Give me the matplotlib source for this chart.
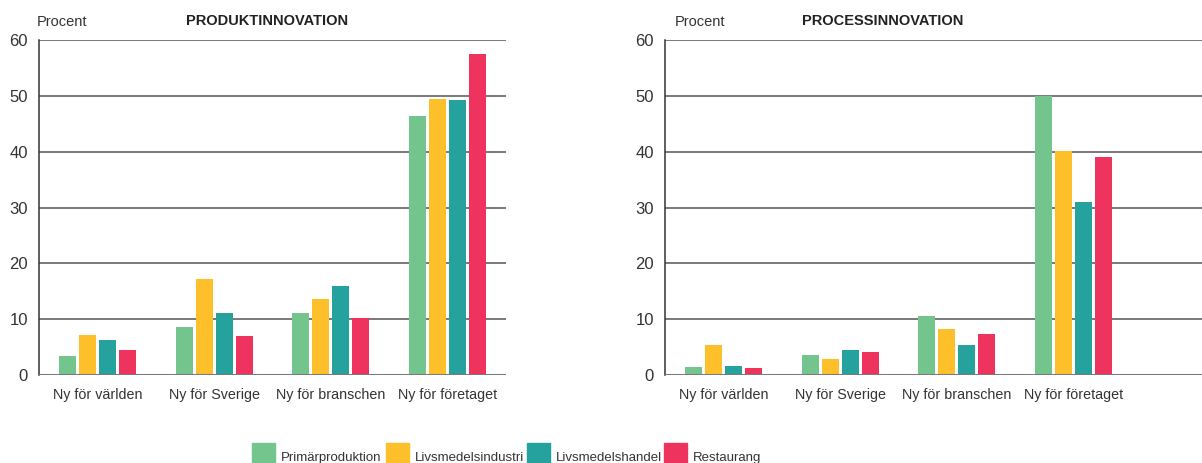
import matplotlib

matplotlib.use("Agg")
import matplotlib.pyplot as plt
import numpy as np
from matplotlib.patches import Rectangle

plt.rcParams["font.family"] = ["Liberation Sans", "DejaVu Sans"]

kategorier = ["Ny för världen", "Ny för Sverige", "Ny för branschen", "Ny för företaget"]
branscher = ["Primärproduktion", "Livsmedelsindustri", "Livsmedelshandel", "Restaurang"]
farger = ["#73c48d", "#fdc02a", "#25a19e", "#ee335e"]

# andel företag (procent) per bransch, i ordning enligt kategorier
produkt_primar = [3.4, 8.6, 11.1, 46.4]
produkt_industri = [7.2, 17.2, 13.6, 49.5]
produkt_handel = [6.3, 11.1, 16.0, 49.3]
produkt_restaurang = [4.5, 7.0, 10.2, 57.5]

process_primar = [1.5, 3.5, 10.6, 50.0]
process_industri = [5.3, 2.9, 8.3, 40.2]
process_handel = [1.7, 4.4, 5.3, 30.9]
process_restaurang = [1.3, 4.1, 7.4, 39.0]

yticks = [0, 10, 20, 30, 40, 50, 60]

W, H = 1202, 463
fig = plt.figure(figsize=(W / 100, H / 100), dpi=100)


def rita(ax, serier, xmax):
    x = np.arange(len(kategorier))
    steg = 0.171
    for i, (vals, col) in enumerate(zip(serier, farger)):
        ax.bar(x + (i - 1.5) * steg, vals, width=0.146, color=col, zorder=3)
    ax.set_xlim(-0.5, xmax)
    ax.set_ylim(0, 60)
    ax.set_yticks(yticks)
    ax.set_xticks(x)
    ax.set_xticklabels(kategorier, fontsize=10.3, color="#333333")
    ax.tick_params(axis="y", labelsize=12, colors="#333333", length=0, pad=8)
    ax.tick_params(axis="x", length=0, pad=9)
    for yv in yticks[1:]:
        ax.axhline(yv, color="#555555", lw=1.1, zorder=1)
    ax.axhline(0, color="#7a7a7a", lw=2.2, zorder=4)
    for s in ["top", "right", "bottom"]:
        ax.spines[s].set_visible(False)
    ax.spines["left"].set_color("#333333")
    ax.spines["left"].set_linewidth(1.1)


ax1 = fig.add_axes([39 / W, 1 - 375 / H, 467 / W, 335 / H])
rita(ax1, [produkt_primar, produkt_industri, produkt_handel, produkt_restaurang], 3.5)
ax2 = fig.add_axes([665 / W, 1 - 375 / H, 537 / W, 335 / H])
rita(ax2, [process_primar, process_industri, process_handel, process_restaurang], 4.1)

# rubriker och enhet ovanför diagrammen
for xpix, titel in [(186, "PRODUKTINNOVATION"), (802, "PROCESSINNOVATION")]:
    fig.text(xpix / W, 1 - 25 / H, titel, fontsize=10.5, fontweight="bold",
             color="#222222", va="baseline")
for xpix in [37, 675]:
    fig.text(xpix / W, 1 - 26 / H, "Procent", fontsize=10.5, color="#333333",
             va="baseline")

# teckenförklaring längst ner
lx = [252, 386, 527, 664]
for xpix, namn, col in zip(lx, branscher, farger):
    fig.patches.append(Rectangle((xpix / W, 0), 23 / W, 20 / H, transform=fig.transFigure,
                                 color=col, figure=fig))
    fig.text((xpix + 29) / W, 2 / H, namn, fontsize=9.5, color="#333333", va="baseline")

fig.savefig("out.png", dpi=100)
